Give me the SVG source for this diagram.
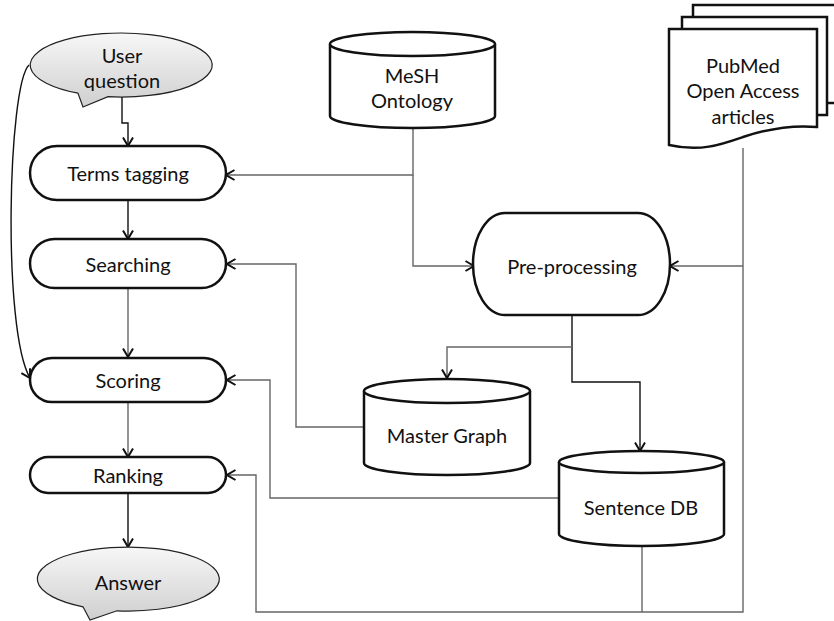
<svg xmlns="http://www.w3.org/2000/svg" width="834" height="621" viewBox="0 0 834 621">
<style>
.node{fill:#fff;stroke:#111;stroke-width:2.5}
.call{fill:url(#g);stroke:#222;stroke-width:1.2}
.t{font-family:Lato,"Open Sans",sans-serif;font-size:20px;fill:#111;text-anchor:middle;dominant-baseline:central}
.c{fill:none;stroke:#666;stroke-width:1.4}
.k{fill:none;stroke:#111;stroke-width:1.4}
</style>
<defs>
<linearGradient id="g" x1="0" y1="0" x2="0" y2="1">
<stop offset="0" stop-color="#f7f7f7"/>
<stop offset="1" stop-color="#cfcfcf"/>
</linearGradient>
<marker id="a" viewBox="0 0 10 12" refX="9.5" refY="6" markerWidth="10" markerHeight="12" markerUnits="userSpaceOnUse" orient="auto">
<path d="M1,1 L9.5,6 L1,11" fill="none" stroke="#111" stroke-width="2"/>
</marker>
</defs>

<g id="connectors">
<path class="k" d="M122,97 L122,123 L128,123 L128,146" marker-end="url(#a)"/>
<path class="k" d="M29,65 C8,85 2,330 30,378" marker-end="url(#a)"/>
<path class="k" d="M128,200 L128,239" marker-end="url(#a)"/>
<path class="c" d="M128,288 L128,357" marker-end="url(#a)"/>
<path class="c" d="M128,402 L128,457" marker-end="url(#a)"/>
<path class="k" d="M128,493 L128,547" marker-end="url(#a)"/>
<path class="c" d="M413,128 L413,175 L226,175" marker-end="url(#a)"/>
<path class="c" d="M413,175 L413,266 L474,266" marker-end="url(#a)"/>
<path class="c" d="M743,148 L743,612 L256,612 L256,475 L227,475" marker-end="url(#a)"/>
<path class="c" d="M743,266 L670,266" marker-end="url(#a)"/>
<path class="k" d="M572,315 L572,382 L640,382 L640,451" marker-end="url(#a)"/>
<path class="c" d="M572,347 L447,347 L447,378" marker-end="url(#a)"/>
<path class="c" d="M364,427 L296,427 L296,264 L227,264" marker-end="url(#a)"/>
<path class="c" d="M559,498 L270,498 L270,380 L227,380" marker-end="url(#a)"/>
<path class="c" d="M642,546 L642,612"/>
</g>

<g id="user-question">
<path class="call" d="M108,96.7 A91,32 0 1 0 78,93.2 L83,107 Z"/>
<text class="t" x="122" y="55">User</text>
<text class="t" x="122" y="80">question</text>
</g>

<g id="terms-tagging">
<rect class="node" x="30" y="146" width="196" height="54" rx="27" ry="27"/>
<text class="t" x="128" y="173">Terms tagging</text>
</g>

<g id="searching">
<rect class="node" x="30" y="239" width="196" height="49" rx="24.5" ry="24.5"/>
<text class="t" x="128" y="264">Searching</text>
</g>

<g id="scoring">
<rect class="node" x="30" y="358" width="196" height="44" rx="22" ry="22"/>
<text class="t" x="128" y="380">Scoring</text>
</g>

<g id="ranking">
<rect class="node" x="30" y="457" width="196" height="36" rx="18" ry="18"/>
<text class="t" x="128" y="475">Ranking</text>
</g>

<g id="answer">
<path class="call" d="M117,610.8 A91,32 0 1 0 83,606.8 L90,620 Z"/>
<text class="t" x="128" y="582">Answer</text>
</g>

<g id="mesh-ontology">
<path class="node" d="M330,44 L330,116 A82.5,12 0 0 0 495,116 L495,44"/>
<ellipse class="node" cx="412.5" cy="44" rx="82.5" ry="12"/>
<text class="t" x="412" y="75">MeSH</text>
<text class="t" x="412" y="100">Ontology</text>
</g>

<g id="pubmed">
<rect class="node" x="693" y="5" width="150" height="98"/>
<rect class="node" x="682" y="17" width="145" height="98"/>
<path class="node" d="M669,29 L817,29 L817,127 C795,125 770,128 743,137 C720,145 700,152 669,145 Z"/>
<text class="t" x="743" y="65">PubMed</text>
<text class="t" x="743" y="90">Open Access</text>
<text class="t" x="743" y="116">articles</text>
</g>

<g id="pre-processing">
<rect class="node" x="473" y="213" width="197" height="102" rx="32" ry="51"/>
<text class="t" x="572" y="266">Pre-processing</text>
</g>

<g id="master-graph">
<path class="node" d="M364,391 L364,463 A83,12 0 0 0 530,463 L530,391"/>
<ellipse class="node" cx="447" cy="391" rx="83" ry="12"/>
<text class="t" x="447" y="435">Master Graph</text>
</g>

<g id="sentence-db">
<path class="node" d="M559,462 L559,534 A82.5,12 0 0 0 724,534 L724,462"/>
<ellipse class="node" cx="641.5" cy="462" rx="82.5" ry="11"/>
<text class="t" x="641" y="507">Sentence DB</text>
</g>
</svg>
